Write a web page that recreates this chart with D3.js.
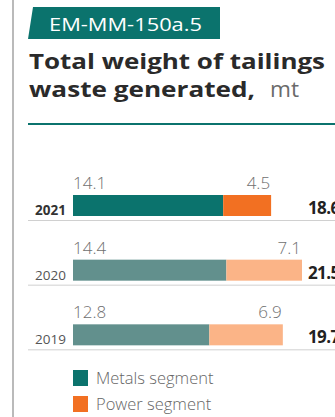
<!DOCTYPE html>
<html>
<head>
<meta charset="utf-8">
<script src="https://cdn.jsdelivr.net/npm/d3@7"></script>
<style>
  html, body { margin: 0; padding: 0; background: #fff; }
  svg { display: block; }
  text { font-family: "Open Sans", "Noto Sans", sans-serif; }
</style>
</head>
<body>
<svg id="chart" width="335" height="417"></svg>
<script>
// Tailings waste by segment, million tonnes
const years = ["2021", "2020", "2019"];
const metals = [14.1, 14.4, 12.8];
const power = [4.5, 7.1, 6.9];
const totals = [18.6, 21.5, 19.7];
const segmentNames = ["Metals segment", "Power segment"];

const svg = d3.select("#chart");
const W = 335, H = 417;

const colors = {
  current: ["#0b736d", "#f27022"],
  past: ["#62908d", "#fbb487"]
};

// left frame rule
svg.append("line").attr("x1", 13).attr("x2", 13).attr("y1", 0).attr("y2", H)
  .attr("stroke", "#a3a3a3").attr("stroke-width", 1.5);

// code badge
svg.append("path")
  .attr("d", "M33,7 L220,7 L220,39 L28,39 Z")
  .attr("fill", "#0b736d");
svg.append("text").attr("x", 49).attr("y", 30.5)
  .attr("fill", "#fff").attr("font-size", 18).attr("font-weight", 500)
  .attr("textLength", 153).attr("lengthAdjust", "spacingAndGlyphs")
  .text("EM-MM-150a.5");

// title
svg.append("text").attr("x", 29).attr("y", 69)
  .attr("fill", "#2a2a2a").attr("font-size", 22).attr("font-weight", 700)
  .attr("textLength", 296).attr("lengthAdjust", "spacingAndGlyphs")
  .text("Total weight of tailings");
svg.append("text").attr("x", 29).attr("y", 97)
  .attr("fill", "#2a2a2a").attr("font-size", 22).attr("font-weight", 700)
  .attr("textLength", 226).attr("lengthAdjust", "spacingAndGlyphs")
  .text("waste generated,");
svg.append("text").attr("x", 270).attr("y", 97)
  .attr("fill", "#6a6a6a").attr("font-size", 22).attr("font-weight", 400)
  .attr("textLength", 29).attr("lengthAdjust", "spacingAndGlyphs")
  .text("mt");

svg.append("line").attr("x1", 28).attr("x2", W).attr("y1", 124).attr("y2", 124)
  .attr("stroke", "#0b736d").attr("stroke-width", 2);

// scales
const x = d3.scaleLinear().domain([0, 21.5]).range([73, 302]);
const y = d3.scaleBand().domain(years).range([176, 370]).paddingInner(0).paddingOuter(0);
const barH = 21;
const barOffset = 19; // bar top within its band

const rows = svg.selectAll("g.row").data(years).enter().append("g").attr("class", "row")
  .attr("transform", d => `translate(0,${y(d)})`);

rows.each(function (yr, i) {
  const g = d3.select(this);
  const pal = i === 0 ? colors.current : colors.past;
  g.append("rect").attr("x", x(0)).attr("y", barOffset)
    .attr("width", x(metals[i]) - x(0)).attr("height", barH).attr("fill", pal[0]);
  g.append("rect").attr("x", x(metals[i])).attr("y", barOffset)
    .attr("width", x(metals[i] + power[i]) - x(metals[i])).attr("height", barH).attr("fill", pal[1]);

  g.append("text").attr("x", x(0)).attr("y", barOffset - 6)
    .attr("fill", "#707070").attr("font-size", 17).attr("font-weight", 300)
    .text(d3.format(".1f")(metals[i]));
  g.append("text").attr("x", x(metals[i] + power[i]) - 1).attr("y", barOffset - 6)
    .attr("text-anchor", "end")
    .attr("fill", "#707070").attr("font-size", 17).attr("font-weight", 300)
    .text(d3.format(".1f")(power[i]));

  g.append("text").attr("x", 66).attr("y", barOffset + barH - 1)
    .attr("text-anchor", "end")
    .attr("fill", i === 0 ? "#333" : "#555").attr("font-size", 13.5)
    .attr("font-weight", i === 0 ? 700 : 400)
    .text(yr);

  g.append("text").attr("x", 308).attr("y", barOffset + barH - 2)
    .attr("fill", "#222").attr("font-size", 17).attr("font-weight", 700)
    .attr("letter-spacing", -0.6)
    .text(d3.format(".1f")(totals[i]));

  g.append("line").attr("x1", 28).attr("x2", W)
    .attr("y1", barOffset + barH + 4.5).attr("y2", barOffset + barH + 4.5)
    .attr("stroke", "#d0d0d0").attr("stroke-width", 1);
});

// legend
const legend = svg.selectAll("g.legend").data(segmentNames).enter().append("g")
  .attr("class", "legend")
  .attr("transform", (d, i) => `translate(73,${370 + i * 26})`);
legend.append("rect").attr("width", 15).attr("height", 16)
  .attr("fill", (d, i) => colors.current[i]);
legend.append("text").attr("x", 23).attr("y", 14)
  .attr("fill", "#666").attr("font-size", 16.5).attr("font-weight", 300)
  .text(d => d);
</script>
</body>
</html>
